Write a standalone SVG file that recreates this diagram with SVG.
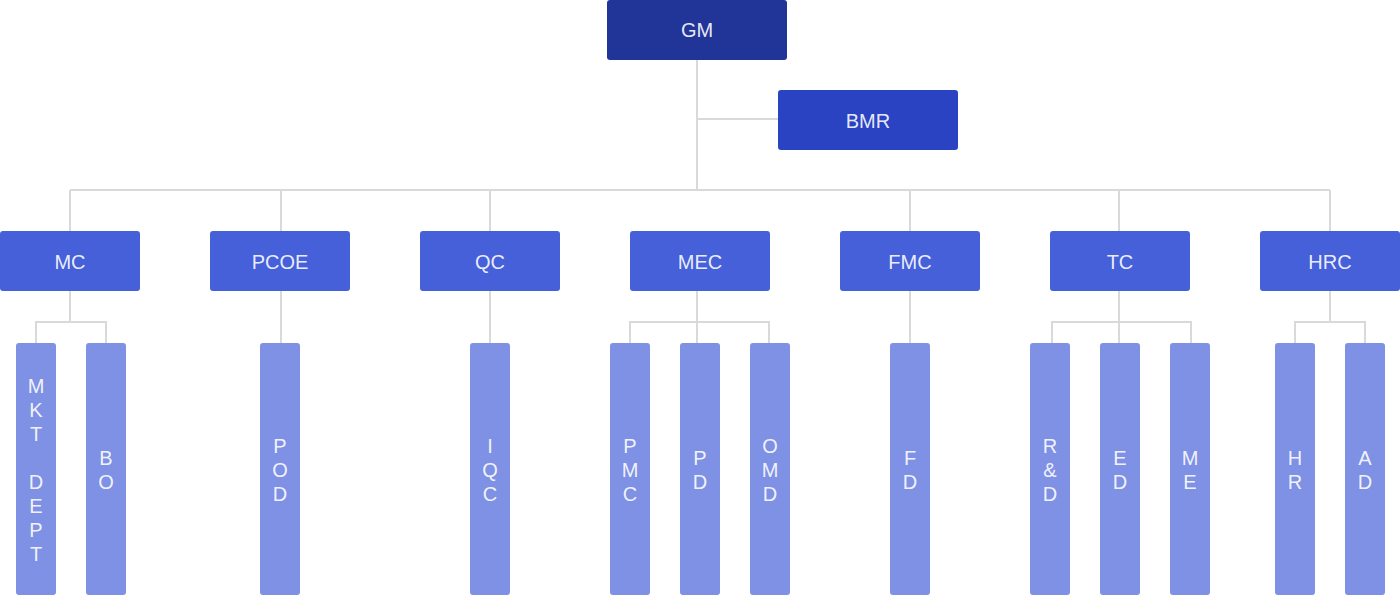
<svg xmlns="http://www.w3.org/2000/svg" width="1400" height="595" viewBox="0 0 1400 595">
<style>
.c{fill:none;stroke:#d9d9d9;stroke-width:2}
.t{font-family:"Liberation Sans",Arial,sans-serif;font-size:20px;fill:#ffffff;fill-opacity:0.9;text-anchor:middle}
.top{fill:#213599}
.bmr{fill:#2a43c3}
.l2{fill:#4560d9}
.lf{fill:#7f91e4}
</style>
<rect width="1400" height="595" fill="#ffffff"/>
<g id="connectors">
<path class="c" d="M697 60V190M697 119H778M70 190H1330M70 190V231M281 190V231M490 190V231M910 190V231M1119 190V231M1330 190V231"/>
<path class="c" d="M70 291V322M36 343V322H106V343"/>
<path class="c" d="M281 291V343M490 291V343M910 291V343"/>
<path class="c" d="M697 291V343M630 343V322H769V343"/>
<path class="c" d="M1119 291V343M1052 343V322H1191V343"/>
<path class="c" d="M1330 291V322M1295 343V322H1365V343"/>
</g>
<g id="GM"><rect class="top" x="607" y="0" width="180" height="60" rx="3"/><text class="t" x="697" y="37">GM</text></g>
<g id="BMR"><rect class="bmr" x="778" y="90" width="180" height="60" rx="3"/><text class="t" x="868" y="127.5">BMR</text></g>
<g id="MC"><rect class="l2" x="0" y="231" width="140" height="60" rx="3"/><text class="t" x="70" y="268.5">MC</text></g>
<g id="PCOE"><rect class="l2" x="210" y="231" width="140" height="60" rx="3"/><text class="t" x="280" y="268.5">PCOE</text></g>
<g id="QC"><rect class="l2" x="420" y="231" width="140" height="60" rx="3"/><text class="t" x="490" y="268.5">QC</text></g>
<g id="MEC"><rect class="l2" x="630" y="231" width="140" height="60" rx="3"/><text class="t" x="700" y="268.5">MEC</text></g>
<g id="FMC"><rect class="l2" x="840" y="231" width="140" height="60" rx="3"/><text class="t" x="910" y="268.5">FMC</text></g>
<g id="TC"><rect class="l2" x="1050" y="231" width="140" height="60" rx="3"/><text class="t" x="1120" y="268.5">TC</text></g>
<g id="HRC"><rect class="l2" x="1260" y="231" width="140" height="60" rx="3"/><text class="t" x="1330" y="268.5">HRC</text></g>
<g id="MKT-DEPT"><rect class="lf" x="16" y="343" width="40" height="252" rx="3"/>
<text class="t"><tspan x="36" y="392.5">M</tspan><tspan x="36" y="416.5">K</tspan><tspan x="36" y="440.5">T</tspan><tspan x="36" y="488.5">D</tspan><tspan x="36" y="512.5">E</tspan><tspan x="36" y="536.5">P</tspan><tspan x="36" y="560.5">T</tspan></text></g>
<g id="BO"><rect class="lf" x="86" y="343" width="40" height="252" rx="3"/>
<text class="t"><tspan x="106" y="464.5">B</tspan><tspan x="106" y="488.5">O</tspan></text></g>
<g id="POD"><rect class="lf" x="260" y="343" width="40" height="252" rx="3"/>
<text class="t"><tspan x="280" y="452.5">P</tspan><tspan x="280" y="476.5">O</tspan><tspan x="280" y="500.5">D</tspan></text></g>
<g id="IQC"><rect class="lf" x="470" y="343" width="40" height="252" rx="3"/>
<text class="t"><tspan x="490" y="452.5">I</tspan><tspan x="490" y="476.5">Q</tspan><tspan x="490" y="500.5">C</tspan></text></g>
<g id="PMC"><rect class="lf" x="610" y="343" width="40" height="252" rx="3"/>
<text class="t"><tspan x="630" y="452.5">P</tspan><tspan x="630" y="476.5">M</tspan><tspan x="630" y="500.5">C</tspan></text></g>
<g id="PD"><rect class="lf" x="680" y="343" width="40" height="252" rx="3"/>
<text class="t"><tspan x="700" y="464.5">P</tspan><tspan x="700" y="488.5">D</tspan></text></g>
<g id="OMD"><rect class="lf" x="750" y="343" width="40" height="252" rx="3"/>
<text class="t"><tspan x="770" y="452.5">O</tspan><tspan x="770" y="476.5">M</tspan><tspan x="770" y="500.5">D</tspan></text></g>
<g id="FD"><rect class="lf" x="890" y="343" width="40" height="252" rx="3"/>
<text class="t"><tspan x="910" y="464.5">F</tspan><tspan x="910" y="488.5">D</tspan></text></g>
<g id="RD"><rect class="lf" x="1030" y="343" width="40" height="252" rx="3"/>
<text class="t"><tspan x="1050" y="452.5">R</tspan><tspan x="1050" y="476.5">&amp;</tspan><tspan x="1050" y="500.5">D</tspan></text></g>
<g id="ED"><rect class="lf" x="1100" y="343" width="40" height="252" rx="3"/>
<text class="t"><tspan x="1120" y="464.5">E</tspan><tspan x="1120" y="488.5">D</tspan></text></g>
<g id="ME"><rect class="lf" x="1170" y="343" width="40" height="252" rx="3"/>
<text class="t"><tspan x="1190" y="464.5">M</tspan><tspan x="1190" y="488.5">E</tspan></text></g>
<g id="HR"><rect class="lf" x="1275" y="343" width="40" height="252" rx="3"/>
<text class="t"><tspan x="1295" y="464.5">H</tspan><tspan x="1295" y="488.5">R</tspan></text></g>
<g id="AD"><rect class="lf" x="1345" y="343" width="40" height="252" rx="3"/>
<text class="t"><tspan x="1365" y="464.5">A</tspan><tspan x="1365" y="488.5">D</tspan></text></g>
</svg>
